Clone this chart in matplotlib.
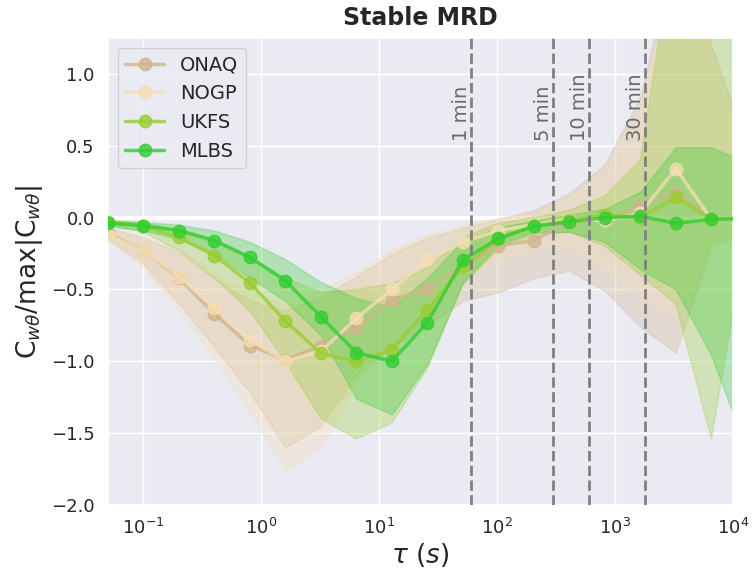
import numpy as np
import matplotlib
matplotlib.use("Agg")
import matplotlib.pyplot as plt
import seaborn as sns

sns.set_theme(style="darkgrid")

# averaging scales (s), doubling from 0.05 s
tau = [0.05, 0.1, 0.2, 0.4, 0.8, 1.6, 3.2, 6.4, 12.8, 25.6, 51.2, 102.4,
       204.8, 409.6, 819.2, 1638.4, 3276.8, 6553.6, 13107.2]

sites = ["ONAQ", "NOGP", "UKFS", "MLBS"]
colors = ["tan", "wheat", "yellowgreen", "limegreen"]

# normalised MRD cospectra, median and spread per site
onaq = [-0.11, -0.23, -0.42, -0.67, -0.89, -0.99, -0.89, -0.77, -0.57, -0.50,
        -0.34, -0.195, -0.16, -0.03, -0.02, 0.085, 0.17, -0.01, -0.005]
onaq_lo = [-0.15, -0.32, -0.60, -0.90, -1.22, -1.60, -1.45, -1.10, -0.90, -0.75,
           -0.58, -0.52, -0.42, -0.37, -0.51, -0.76, -0.94, -0.20, -0.10]
onaq_hi = [-0.07, -0.14, -0.24, -0.42, -0.58, -0.65, -0.55, -0.41, -0.25, -0.14,
           -0.07, -0.01, 0.05, 0.17, 0.37, 0.84, 1.90, 1.20, 0.50]

nogp = [-0.12, -0.23, -0.41, -0.63, -0.85, -1.0, -0.93, -0.70, -0.50, -0.29,
        -0.17, -0.09, -0.05, -0.01, -0.02, 0.03, 0.34, -0.01, -0.005]
nogp_lo = [-0.16, -0.35, -0.65, -0.98, -1.35, -1.76, -1.60, -1.15, -0.85, -0.60,
           -0.40, -0.30, -0.22, -0.22, -0.35, -0.55, -0.70, -0.20, -0.10]
nogp_hi = [-0.08, -0.13, -0.22, -0.38, -0.52, -0.60, -0.50, -0.38, -0.22, -0.12,
           -0.05, 0.0, 0.04, 0.14, 0.32, 0.75, 1.80, 1.10, 0.40]

ukfs = [-0.03, -0.06, -0.137, -0.265, -0.455, -0.72, -0.945, -1.0, -0.92, -0.64,
        -0.34, -0.15, -0.06, -0.02, 0.02, 0.0, 0.14, -0.01, -0.005]
ukfs_lo = [-0.05, -0.10, -0.23, -0.42, -0.65, -1.0, -1.40, -1.54, -1.43, -1.05,
           -0.47, -0.22, -0.12, -0.10, -0.20, -0.40, -0.60, -1.54, -0.10]
ukfs_hi = [-0.02, -0.04, -0.08, -0.15, -0.27, -0.42, -0.52, -0.50, -0.46, -0.35,
           -0.14, -0.04, 0.0, 0.05, 0.15, 0.40, 2.0, 2.5, 2.5]

mlbs = [-0.04, -0.056, -0.09, -0.16, -0.277, -0.44, -0.69, -0.94, -1.0, -0.73,
        -0.295, -0.145, -0.06, -0.03, 0.0, 0.01, -0.04, -0.013, -0.005]
mlbs_lo = [-0.06, -0.09, -0.15, -0.25, -0.42, -0.58, -0.82, -1.26, -1.37, -1.02,
           -0.45, -0.19, -0.10, -0.10, -0.17, -0.36, -0.50, -0.96, -1.62]
mlbs_hi = [-0.02, -0.03, -0.05, -0.09, -0.17, -0.29, -0.45, -0.56, -0.62, -0.42,
           -0.16, -0.07, -0.02, 0.02, 0.06, 0.18, 0.49, 0.49, 0.38]

medians = [onaq, nogp, ukfs, mlbs]
lows = [onaq_lo, nogp_lo, ukfs_lo, mlbs_lo]
highs = [onaq_hi, nogp_hi, ukfs_hi, mlbs_hi]

# reference averaging times
marks = [60, 300, 600, 1800]
mark_labels = ["1 min", "5 min", "10 min", "30 min"]

fig = plt.figure(figsize=(7.52, 5.8), dpi=100)
ax = fig.add_axes([0.1436, 0.1293, 0.8311, 0.8052])

ax.axhline(0, color="white", lw=3, zorder=1)

for name, c, m, lo, hi in zip(sites, colors, medians, lows, highs):
    ax.fill_between(tau, lo, hi, color=c, alpha=0.3, lw=1, zorder=2)
    ax.plot(tau, m, "-o", color=c, alpha=0.8, lw=2.5, ms=9, label=name, zorder=3)

for t, lab in zip(marks, mark_labels):
    ax.axvline(t, color="grey", ls="--", lw=2, zorder=4)
    ax.text(t, 0.53, lab, rotation=90, ha="right", va="bottom",
            fontsize=14, color="dimgrey", zorder=4)

ax.set_xscale("log")
ax.set_xlim(0.05, 1e4)
ax.set_ylim(-2.0, 1.25)
ax.set_yticks([-2.0, -1.5, -1.0, -0.5, 0.0, 0.5, 1.0])
ax.tick_params(labelsize=13)
ax.set_xlabel(r"$\tau$ $(s)$", fontsize=19, labelpad=2)
ax.set_ylabel(r"C$_{w\theta}$/max|C$_{w\theta}$|", fontsize=19)
ax.set_title("Stable MRD", fontsize=17, fontweight="bold", pad=9)
ax.legend(loc="upper left", fontsize=14)

fig.savefig("out.png", dpi=100)
